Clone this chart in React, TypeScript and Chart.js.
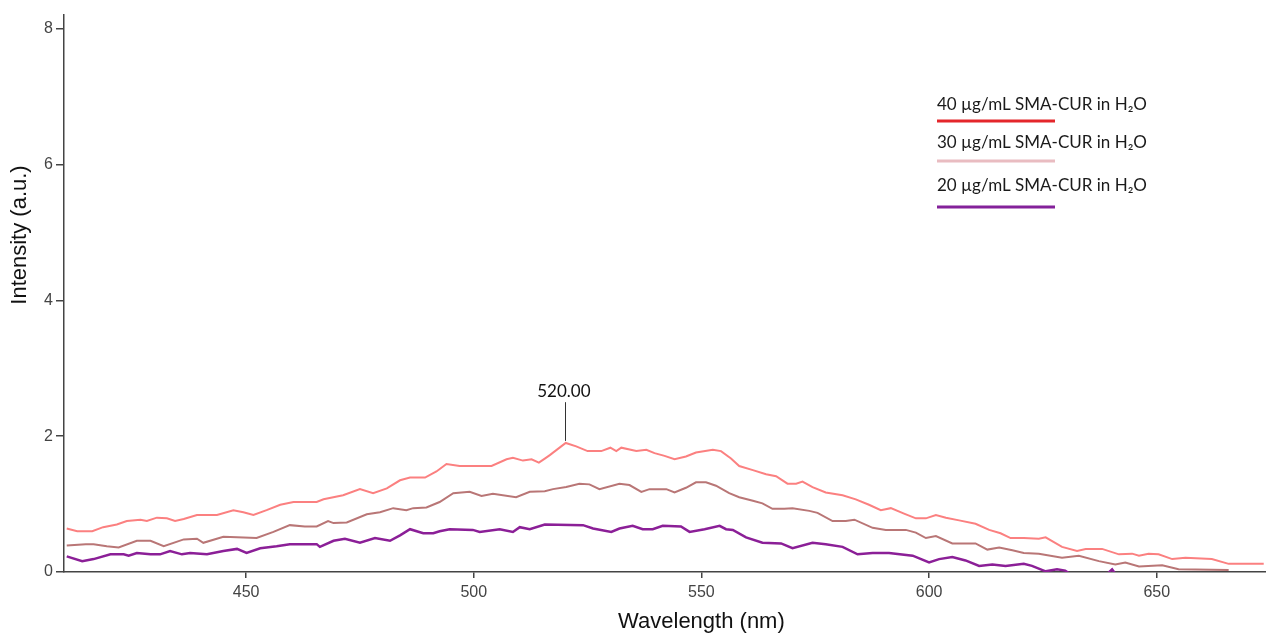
import React, { useEffect, useRef } from "react";
import { Chart, registerables } from "chart.js";

Chart.register(...registerables);

// ---- Data ----
const topWl = [410.6, 412.9, 416.2, 418.6, 421.6, 423.8, 426.8, 428.2, 430.4, 432.6, 434.4, 436.3, 439.2, 443.6, 447.2, 449.4, 451.6, 454.5, 457.5, 460.4, 465.5, 467.0, 471.3, 475.0, 477.9, 480.9, 483.8, 486.0, 489.3, 491.8, 494.0, 496.9, 503.9, 507.2, 508.6, 510.8, 512.7, 514.3, 515.6, 516.7, 520.2, 522.5, 525.0, 528.0, 530.0, 531.3, 532.4, 535.7, 537.9, 539.7, 541.9, 544.1, 546.6, 548.8, 552.5, 554.3, 556.5, 558.3, 561.3, 564.2, 566.4, 568.9, 570.8, 572.2, 574.4, 577.3, 581.0, 583.9, 586.8, 589.4, 591.6, 594.5, 597.1, 599.3, 601.5, 603.7, 606.6, 610.2, 613.2, 615.7, 617.9, 620.8, 624.1, 625.6, 629.2, 632.5, 634.4, 638.0, 641.7, 644.6, 646.1, 648.2, 650.4, 653.4, 656.3, 662.1, 665.8, 673.5];
const topVals = [0.64, 0.60, 0.60, 0.66, 0.70, 0.75, 0.77, 0.75, 0.80, 0.79, 0.75, 0.78, 0.84, 0.84, 0.91, 0.88, 0.84, 0.91, 0.99, 1.03, 1.03, 1.07, 1.13, 1.22, 1.16, 1.23, 1.35, 1.39, 1.39, 1.48, 1.59, 1.56, 1.56, 1.66, 1.68, 1.64, 1.66, 1.61, 1.67, 1.72, 1.90, 1.85, 1.78, 1.78, 1.83, 1.78, 1.83, 1.78, 1.80, 1.75, 1.71, 1.66, 1.70, 1.76, 1.80, 1.78, 1.67, 1.56, 1.50, 1.44, 1.41, 1.30, 1.30, 1.33, 1.25, 1.17, 1.13, 1.07, 0.99, 0.91, 0.94, 0.86, 0.79, 0.79, 0.84, 0.80, 0.76, 0.71, 0.62, 0.57, 0.50, 0.50, 0.49, 0.51, 0.37, 0.31, 0.34, 0.34, 0.26, 0.27, 0.24, 0.27, 0.26, 0.19, 0.21, 0.19, 0.12, 0.12];

const midWl = [410.6, 414.8, 416.5, 419.4, 422.0, 426.0, 429.0, 431.9, 436.3, 439.2, 440.6, 445.0, 448.0, 452.3, 456.0, 459.6, 462.9, 465.5, 468.0, 469.2, 472.1, 476.5, 479.4, 482.3, 485.2, 486.7, 489.6, 492.5, 495.5, 499.1, 501.7, 504.2, 509.3, 512.3, 515.6, 517.4, 520.3, 523.2, 525.4, 527.6, 532.0, 534.2, 536.8, 538.6, 542.3, 544.1, 546.6, 548.8, 551.0, 553.2, 556.1, 558.3, 561.3, 563.4, 565.6, 568.2, 570.0, 573.7, 575.5, 578.8, 581.7, 583.6, 587.6, 590.5, 594.9, 597.1, 599.3, 601.5, 605.1, 610.2, 612.8, 615.4, 618.3, 620.8, 624.1, 629.2, 632.9, 637.3, 640.9, 643.1, 646.1, 651.2, 654.8, 665.8];
const midVals = [0.39, 0.41, 0.41, 0.38, 0.36, 0.46, 0.46, 0.38, 0.48, 0.49, 0.43, 0.52, 0.51, 0.50, 0.59, 0.69, 0.67, 0.67, 0.75, 0.72, 0.73, 0.85, 0.88, 0.94, 0.91, 0.94, 0.95, 1.03, 1.16, 1.18, 1.12, 1.15, 1.10, 1.18, 1.19, 1.22, 1.25, 1.30, 1.29, 1.22, 1.30, 1.28, 1.18, 1.22, 1.22, 1.17, 1.24, 1.32, 1.32, 1.27, 1.16, 1.10, 1.05, 1.01, 0.93, 0.93, 0.94, 0.90, 0.87, 0.75, 0.75, 0.77, 0.65, 0.62, 0.62, 0.58, 0.50, 0.53, 0.42, 0.42, 0.33, 0.36, 0.32, 0.28, 0.27, 0.21, 0.24, 0.16, 0.11, 0.14, 0.08, 0.10, 0.04, 0.03];

const lowWl = [410.6, 414.0, 416.5, 420.2, 423.1, 424.2, 426.0, 429.0, 431.1, 433.3, 435.9, 437.7, 441.4, 445.0, 448.0, 450.1, 453.1, 456.7, 459.6, 465.5, 466.2, 469.2, 471.7, 475.0, 478.3, 481.6, 483.8, 486.0, 488.9, 491.1, 492.5, 494.7, 499.8, 501.3, 505.7, 508.6, 510.1, 512.3, 515.6, 524.0, 526.2, 530.2, 532.0, 534.9, 537.1, 539.3, 541.5, 545.5, 547.4, 550.7, 554.0, 555.4, 556.9, 559.8, 563.4, 567.5, 570.0, 574.4, 577.3, 581.0, 584.3, 587.6, 591.2, 596.4, 600.0, 602.2, 605.1, 608.0, 611.0, 613.9, 616.8, 620.8, 622.6, 625.6, 628.1, 629.9, 632.5, 638.0, 640.2, 641.7];
const lowVals = [0.23, 0.16, 0.19, 0.26, 0.26, 0.24, 0.28, 0.26, 0.26, 0.31, 0.26, 0.28, 0.26, 0.31, 0.34, 0.28, 0.35, 0.38, 0.41, 0.41, 0.37, 0.46, 0.49, 0.43, 0.50, 0.46, 0.54, 0.63, 0.57, 0.57, 0.60, 0.63, 0.62, 0.59, 0.63, 0.59, 0.66, 0.63, 0.70, 0.69, 0.64, 0.59, 0.64, 0.68, 0.63, 0.63, 0.68, 0.67, 0.59, 0.63, 0.68, 0.63, 0.62, 0.51, 0.43, 0.42, 0.35, 0.43, 0.41, 0.37, 0.26, 0.28, 0.28, 0.24, 0.14, 0.19, 0.22, 0.17, 0.09, 0.11, 0.09, 0.12, 0.09, 0.01, 0.04, 0.02, -0.1, -0.1, 0.04, -0.1];

const xTicks = [450, 500, 550, 600, 650];
const yTicks = [0, 2, 4, 6, 8];
const legendLabels = ["40 µg/mL SMA-CUR in H₂O", "30 µg/mL SMA-CUR in H₂O", "20 µg/mL SMA-CUR in H₂O"];
const legendColors = ["#e4262b", "#e9bcc1", "#84219a"];
const seriesColors = ["#fb8080", "#b97676", "#8b1f97"];
const peakWl = 520;
const peakLabel = "520.00";

function toPoints(xs: number[], ys: number[]) {
  return xs.map((x, i) => ({ x, y: ys[i] }));
}

export default function App() {
  const ref = useRef<HTMLCanvasElement>(null);

  useEffect(() => {
    document.body.style.margin = "0";
    const canvas = ref.current;
    if (!canvas) return;

    const overlay = {
      id: "overlay",
      afterDraw(chart: any) {
        const ctx = chart.ctx;
        const xs = chart.scales.x;
        const ys = chart.scales.y;
        ctx.save();
        // peak annotation
        const px = xs.getPixelForValue(peakWl);
        ctx.strokeStyle = "#333";
        ctx.lineWidth = 1;
        ctx.beginPath();
        ctx.moveTo(Math.round(px) + 0.5, ys.getPixelForValue(2.5));
        ctx.lineTo(Math.round(px) + 0.5, ys.getPixelForValue(1.93));
        ctx.stroke();
        ctx.fillStyle = "#111";
        ctx.font = "17px Lato";
        ctx.textAlign = "center";
        ctx.textBaseline = "middle";
        ctx.fillText(peakLabel, px - 1, ys.getPixelForValue(2.66));

        // axis titles
        ctx.fillStyle = "#111";
        ctx.font = "22px 'Liberation Sans'";
        ctx.textAlign = "center";
        ctx.textBaseline = "middle";
        ctx.fillText("Wavelength (nm)", xs.getPixelForValue(550), 622);
        ctx.save();
        ctx.translate(20, 235);
        ctx.rotate(-Math.PI / 2);
        ctx.fillText("Intensity (a.u.)", 0, 0);
        ctx.restore();

        // legend
        const textY = [105, 143, 186];
        const lineY = [121, 161, 207];
        ctx.font = "17px Lato";
        ctx.textAlign = "left";
        ctx.textBaseline = "middle";
        legendLabels.forEach((lab, i) => {
          ctx.fillStyle = "#1a1a1a";
          ctx.fillText(lab, 937, textY[i]);
          ctx.strokeStyle = legendColors[i];
          ctx.lineWidth = 3;
          ctx.beginPath();
          ctx.moveTo(937, lineY[i]);
          ctx.lineTo(1055, lineY[i]);
          ctx.stroke();
        });
        ctx.restore();
      },
    };

    const chart = new Chart(canvas, {
      type: "line",
      data: {
        datasets: [
          { label: legendLabels[0], data: toPoints(topWl, topVals), borderColor: seriesColors[0], borderWidth: 2 },
          { label: legendLabels[1], data: toPoints(midWl, midVals), borderColor: seriesColors[1], borderWidth: 2 },
          { label: legendLabels[2], data: toPoints(lowWl, lowVals), borderColor: seriesColors[2], borderWidth: 2.5 },
        ] as any,
      },
      options: {
        animation: false,
        responsive: false,
        devicePixelRatio: 1,
        layout: { padding: { top: 15, left: 0, right: 0, bottom: 0 } },
        elements: { point: { radius: 0 }, line: { tension: 0 } },
        plugins: { legend: { display: false }, tooltip: { enabled: false } },
        scales: {
          x: {
            type: "linear",
            min: 410,
            max: 674,
            afterBuildTicks: (s: any) => {
              s.ticks = xTicks.map((v) => ({ value: v }));
            },
            afterFit: (s: any) => {
              s.height = 63;
            },
            grid: { drawOnChartArea: false, drawTicks: true, tickLength: 6, color: "#444", lineWidth: 1.5 },
            border: { display: true, color: "#444", width: 1.5 },
            ticks: { color: "#444", font: { family: "'Liberation Sans'", size: 16 }, padding: 5, maxRotation: 0, autoSkip: false },
          },
          y: {
            type: "linear",
            min: 0,
            max: 8.2,
            afterBuildTicks: (s: any) => {
              s.ticks = yTicks.map((v) => ({ value: v }));
            },
            afterFit: (s: any) => {
              s.width = 64;
            },
            grid: { drawOnChartArea: false, drawTicks: true, tickLength: 8, color: "#444", lineWidth: 1.5 },
            border: { display: true, color: "#444", width: 1.5 },
            ticks: { color: "#444", font: { family: "'Liberation Sans'", size: 16 }, padding: 3 },
          },
        },
      } as any,
      plugins: [overlay],
    });

    return () => chart.destroy();
  }, []);

  return (
    <div style={{ width: 1266, height: 635 }}>
      <canvas ref={ref} width={1266} height={635} style={{ display: "block" }} />
    </div>
  );
}
